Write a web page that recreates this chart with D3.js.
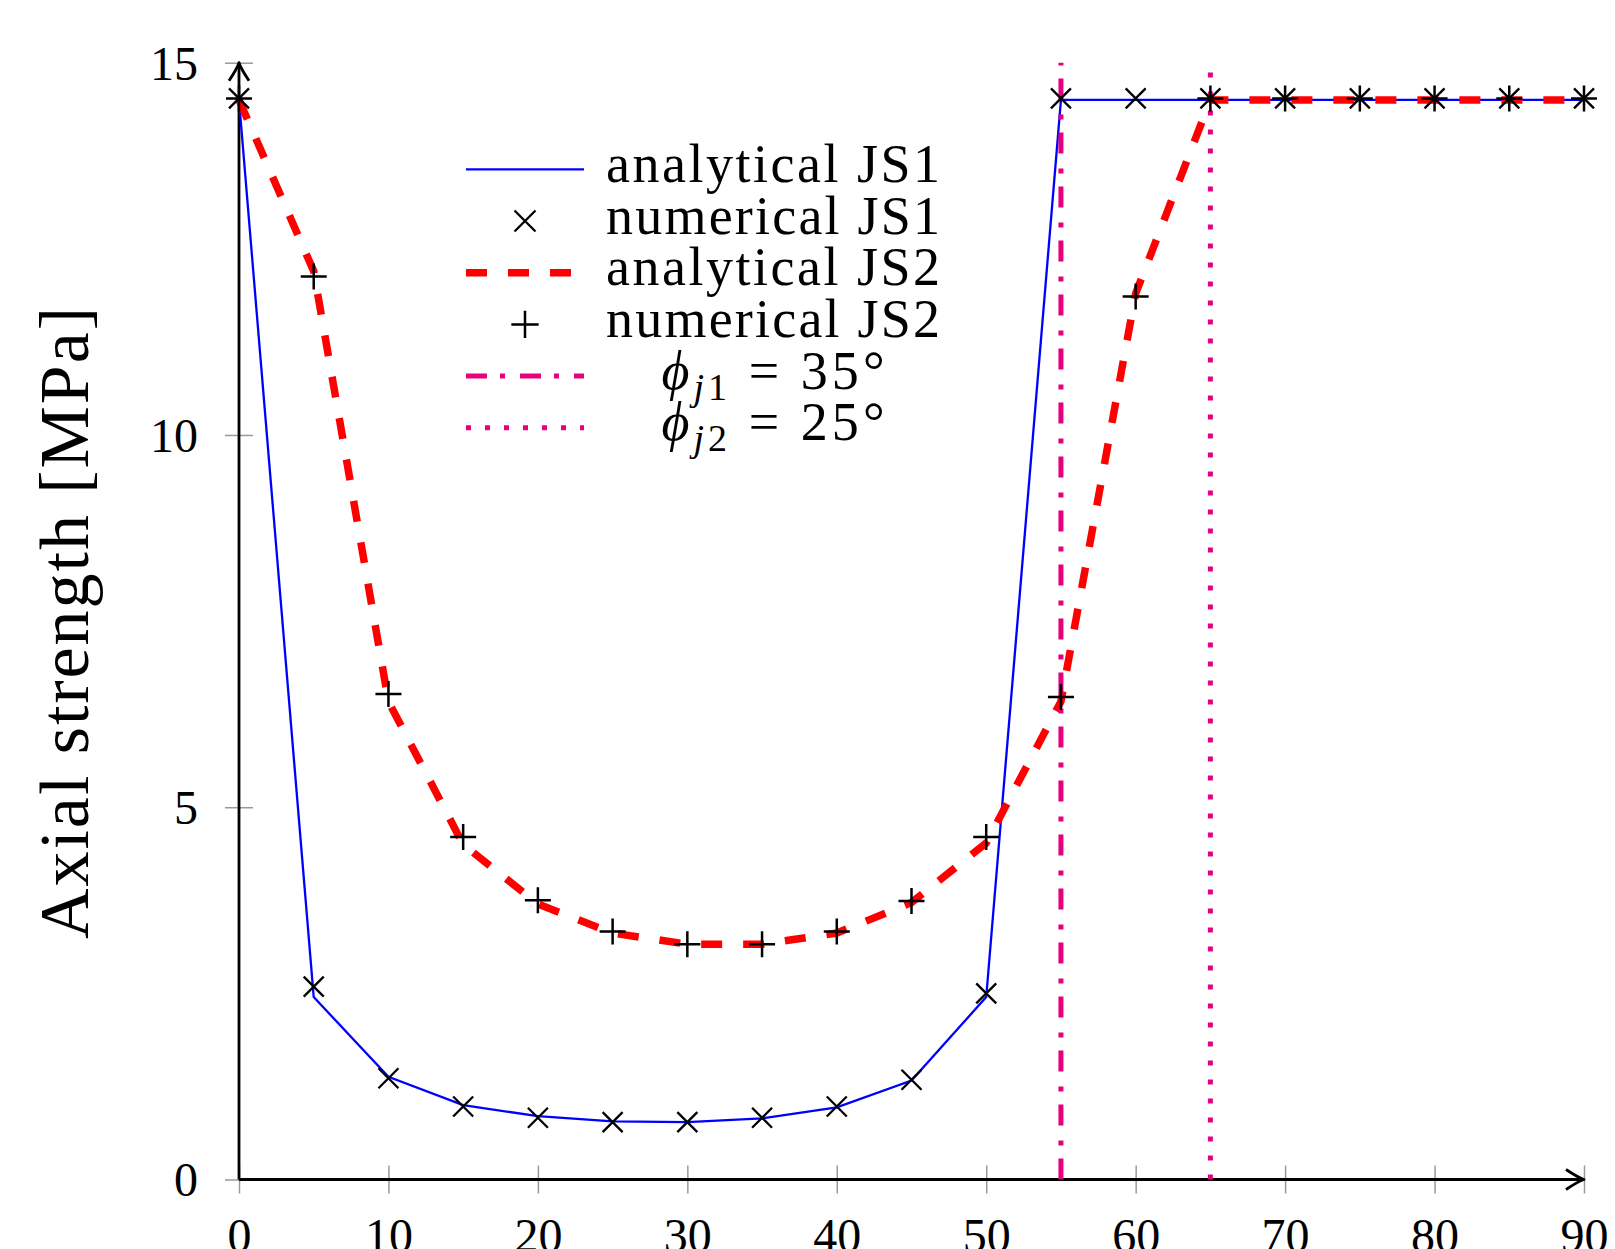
<!DOCTYPE html>
<html><head><meta charset="utf-8">
<script src="https://cdn.jsdelivr.net/npm/d3@7"></script>
<style>html,body{margin:0;padding:0;background:#fff;overflow:hidden}</style>
</head><body><svg id="c" width="1615" height="1249"></svg>
<script>
// ---- data ----
const angles        = [0,5,10,15,20,25,30,35,40,45,50,55,60,65,70,75,80,85,90];
const analyticalJS1 = [14.5,2.45,1.38,1.0,0.85,0.78,0.77,0.82,0.97,1.33,2.45,14.5,14.5,14.5,14.5,14.5,14.5,14.5,14.5];
const numericalJS1  = [14.52,2.59,1.36,0.98,0.83,0.77,0.77,0.83,0.98,1.34,2.50,14.52,14.52,14.52,14.52,14.52,14.52,14.52,14.52];
const analyticalJS2 = [14.5,12.2,6.42,4.5,3.7,3.31,3.16,3.16,3.31,3.72,4.52,6.42,11.9,14.5,14.5,14.5,14.5,14.5,14.5];
const numericalJS2  = [14.52,12.13,6.52,4.6,3.75,3.33,3.16,3.16,3.33,3.74,4.6,6.48,11.86,14.52,14.52,14.52,14.52,14.52,14.52];
const phiAngles     = [55, 65];
const phiValues     = ["35°", "25°"];
const phiSubs       = ["1", "2"];
const xTickValues   = [0,10,20,30,40,50,60,70,80,90];
const yTickValues   = [0,5,10,15];
const legendLabels  = ["analytical JS1","numerical JS1","analytical JS2","numerical JS2"];
const yLabel        = "Axial strength [MPa]";

// ---- styles ----
const FONT = "'Liberation Serif','DejaVu Serif',serif";
const BLUE = "#0000ff", RED = "#ff0000", MAG = "#e6007e";
const redDash = "21,21", dashDot = "21,13,5,15", dotted = "5,14";

const svg = d3.select("#c");
const x = d3.scaleLinear().domain([0,90]).range([239,1584]);
const y = d3.scaleLinear().domain([0,15]).range([1179.5,62.7]);

// ticks (grey, crossing the axes)
const gx = svg.append("g").attr("transform",`translate(0,${y(0)})`)
  .call(d3.axisBottom(x).tickValues(xTickValues).tickSize(14).tickFormat(d3.format("d")));
gx.select(".domain").remove();
gx.selectAll(".tick line").attr("y1",-14).attr("y2",14).attr("stroke","#999").attr("stroke-width",1.5);
gx.selectAll(".tick text").attr("y",72).attr("dy",null).attr("fill","#000")
  .style("font-family",FONT).style("font-size","48px");

const gy = svg.append("g").attr("transform",`translate(${x(0)},0)`)
  .call(d3.axisLeft(y).tickValues(yTickValues).tickSize(14).tickFormat(d3.format("d")));
gy.select(".domain").remove();
gy.selectAll(".tick line").attr("x1",-14).attr("x2",14).attr("stroke","#999").attr("stroke-width",1.5);
gy.selectAll(".tick text").attr("x",-41).attr("dy","0.34em").attr("fill","#000")
  .style("font-family",FONT).style("font-size","48px");

// axis lines with arrows
svg.append("line").attr("x1",x(0)).attr("x2",x(90)-1).attr("y1",y(0)).attr("y2",y(0))
  .attr("stroke","#000").attr("stroke-width",2.8);
svg.append("line").attr("x1",x(0)).attr("x2",x(0)).attr("y1",y(0)).attr("y2",y(15)+2)
  .attr("stroke","#000").attr("stroke-width",2.8);
const arrow = "M-18,-10 Q-6,-2 0,0 Q-6,2 -18,10";
svg.append("path").attr("d",arrow).attr("transform",`translate(${x(90)},${y(0)})`)
  .attr("fill","none").attr("stroke","#000").attr("stroke-width",2.8).attr("stroke-linejoin","round");
svg.append("path").attr("d",arrow).attr("transform",`translate(${x(0)},${y(15)}) rotate(-90)`)
  .attr("fill","none").attr("stroke","#000").attr("stroke-width",2.8).attr("stroke-linejoin","round");

// y label
svg.append("text").attr("transform",`translate(88,623) rotate(-90)`)
  .attr("text-anchor","middle").attr("textLength",632).attr("lengthAdjust","spacing")
  .style("font-family",FONT).style("font-size","70px").text(yLabel);

// curves
const pts = v => angles.map((a,i)=>[a,v[i]]);
const line = d3.line().x(d=>x(d[0])).y(d=>y(d[1]));
svg.append("path").attr("d",line(pts(analyticalJS1))).attr("fill","none")
  .attr("stroke",BLUE).attr("stroke-width",2.3);
svg.append("path").attr("d",line(pts(analyticalJS2))).attr("fill","none")
  .attr("stroke",RED).attr("stroke-width",7.5).attr("stroke-dasharray",redDash);

// vertical friction-angle lines
svg.selectAll(".phi").data(phiAngles).join("line")
  .attr("x1",d=>x(d)).attr("x2",d=>x(d)).attr("y1",y(0)).attr("y2",y(15))
  .attr("stroke",MAG).attr("stroke-width",5)
  .attr("stroke-dasharray",(d,i)=>i===0?dashDot:dotted);

// markers
const crossPath = "M-10,-10L10,10M-10,10L10,-10";
const plusPath = "M-13,0H13M0,-13V13";
svg.selectAll(".mx").data(pts(numericalJS1)).join("path")
  .attr("d",crossPath).attr("transform",d=>`translate(${x(d[0])},${y(d[1])})`)
  .attr("stroke","#000").attr("stroke-width",2.3).attr("fill","none");
svg.selectAll(".mp").data(pts(numericalJS2)).join("path")
  .attr("d",plusPath).attr("transform",d=>`translate(${x(d[0])},${y(d[1])})`)
  .attr("stroke","#000").attr("stroke-width",2.5).attr("fill","none");

// legend
const L = svg.append("g");
const rowY = i => 169.3 + i*51.7;
const lx0 = 466, lx1 = 584, lmx = 525, ltx = 606;
L.append("line").attr("x1",lx0).attr("x2",lx1).attr("y1",rowY(0)).attr("y2",rowY(0))
  .attr("stroke",BLUE).attr("stroke-width",2.3);
L.append("path").attr("d",crossPath).attr("transform",`translate(${lmx},${rowY(1)}) scale(1.05)`)
  .attr("stroke","#000").attr("stroke-width",2.2).attr("fill","none");
L.append("line").attr("x1",lx0).attr("x2",lx1).attr("y1",rowY(2)).attr("y2",rowY(2))
  .attr("stroke",RED).attr("stroke-width",7.5).attr("stroke-dasharray",redDash);
L.append("path").attr("d",plusPath).attr("transform",`translate(${lmx},${rowY(3)}) scale(1.05)`)
  .attr("stroke","#000").attr("stroke-width",2.4).attr("fill","none");
L.append("line").attr("x1",lx0).attr("x2",lx1).attr("y1",rowY(4)).attr("y2",rowY(4))
  .attr("stroke",MAG).attr("stroke-width",5).attr("stroke-dasharray",dashDot);
L.append("line").attr("x1",lx0).attr("x2",lx1).attr("y1",rowY(5)).attr("y2",rowY(5))
  .attr("stroke",MAG).attr("stroke-width",5).attr("stroke-dasharray",dotted);

legendLabels.forEach((t,i)=>{
  L.append("text").attr("x",ltx).attr("y",rowY(i)+12.5)
    .attr("textLength",334).attr("lengthAdjust","spacing")
    .style("font-family",FONT).style("font-size","54px").text(t);
});
phiValues.forEach((v,i)=>{
  const t = L.append("text").attr("x",773).attr("y",rowY(4+i)+12.5)
    .attr("text-anchor","middle").attr("textLength",223).attr("lengthAdjust","spacing")
    .style("font-family",FONT).style("font-size","54px");
  t.append("tspan").style("font-style","italic").text("ϕ");
  t.append("tspan").attr("dy",11).style("font-size","38px").style("font-style","italic").text("j");
  t.append("tspan").style("font-size","38px").text(phiSubs[i]);
  t.append("tspan").attr("dy",-11).text(" = " + v);
});
</script></body></html>
